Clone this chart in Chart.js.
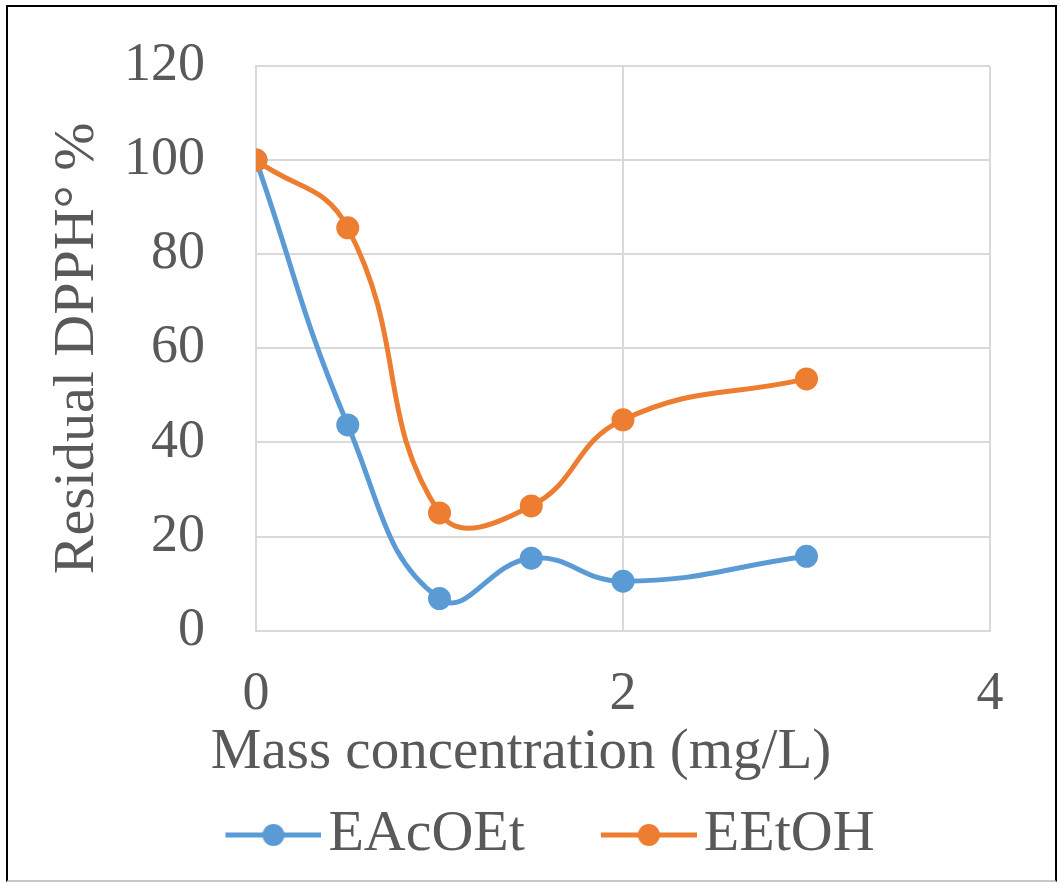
<!DOCTYPE html>
<html>
<head>
<meta charset="utf-8">
<script src="https://cdn.jsdelivr.net/npm/chart.js@4/dist/chart.umd.min.js"></script>
<style>
  body { margin: 0; background: #fff; }
  #wrap { position: relative; width: 1060px; height: 883px; }
  #frame {
    position: absolute; left: 6px; top: 5px; width: 1047px; height: 873px;
    border: 2px solid #000; border-bottom-color: #c8c8c8; pointer-events: none;
  }
</style>
</head>
<body>
<div id="wrap">
  <canvas id="chart"></canvas>
  <div id="frame"></div>
</div>
<script>
// data
const concentrations = [0, 0.5, 1, 1.5, 2, 3];
const eacoetValues = [100, 43.7, 6.8, 15.4, 10.5, 15.8];
const eetohValues = [100, 85.6, 25.0, 26.5, 44.8, 53.5];
const seriesNames = ['EAcOEt', 'EEtOH'];
const xTicks = [0, 2, 4];
const yTicks = [0, 20, 40, 60, 80, 100, 120];

const BLUE = '#5B9BD5';
const ORANGE = '#ED7D31';
const TEXT = '#595959';
const GRID = '#d9d9d9';
const FONT = "'Liberation Serif', 'Times New Roman', serif";

function toPoints(values) {
    return concentrations.map((c, i) => ({ x: c, y: values[i] }));
}

// line + marker icon for the legend, like Excel's.
// left part of the canvas is empty so the items sit further apart
function legendIcon(color) {
    const c = document.createElement('canvas');
    c.width = 176;
    c.height = 26;
    const ctx = c.getContext('2d');
    ctx.strokeStyle = color;
    ctx.lineWidth = 5;
    ctx.beginPath();
    ctx.moveTo(80, 13);
    ctx.lineTo(176, 13);
    ctx.stroke();
    ctx.fillStyle = color;
    ctx.beginPath();
    ctx.arc(128, 13, 11, 0, Math.PI * 2);
    ctx.fill();
    return c;
}

function series(label, values, color, order) {
    return {
        label: label,
        data: toPoints(values),
        order: order,
        borderColor: color,
        backgroundColor: color,
        borderWidth: 5,
        pointRadius: 11.5,
        pointHoverRadius: 11.5,
        pointBorderWidth: 0,
        tension: 0.45
    };
}

new Chart(document.getElementById('chart'), {
    type: 'line',
    data: {
        datasets: [
            series(seriesNames[0], eacoetValues, BLUE, 1),
            series(seriesNames[1], eetohValues, ORANGE, 0)
        ]
    },
    options: {
        responsive: true,
        maintainAspectRatio: false,
        animation: false,
        layout: { padding: { left: 0, right: 18, top: 0, bottom: 9 } },
        plugins: {
            tooltip: { enabled: false },
            title: {
                display: true,
                position: 'bottom',
                weight: 500,
                text: 'Mass concentration (mg/L)',
                color: TEXT,
                padding: { top: 2, bottom: 1 },
                font: { family: FONT, size: 57, weight: 'normal' }
            },
            legend: {
                position: 'bottom',
                labels: {
                    usePointStyle: true,
                    pointStyleWidth: 132,
                    padding: 18,
                    color: TEXT,
                    font: { family: FONT, size: 58 },
                    generateLabels: chart => chart.data.datasets.map((ds, i) => ({
                        text: ds.label,
                        pointStyle: legendIcon(ds.borderColor),
                        fillStyle: ds.borderColor,
                        strokeStyle: ds.borderColor,
                        lineWidth: 0,
                        fontColor: TEXT,
                        hidden: false,
                        datasetIndex: i
                    }))
                }
            }
        },
        scales: {
            x: {
                type: 'linear',
                min: 0,
                max: 4,
                afterBuildTicks: scale => { scale.ticks = xTicks.map(v => ({ value: v })); },
                afterFit: scale => { scale.height = 86; scale.paddingRight = 70; },
                grid: { color: GRID, lineWidth: 2, drawTicks: false },
                border: { color: GRID, width: 2 },
                ticks: {
                    color: TEXT,
                    padding: 32,
                    font: { family: FONT, size: 54 }
                }
            },
            y: {
                min: 0,
                max: 120,
                afterBuildTicks: scale => { scale.ticks = yTicks.map(v => ({ value: v })); },
                afterFit: scale => { scale.width = 256; scale.paddingTop = 66; },
                grid: { color: GRID, lineWidth: 2, drawTicks: false },
                border: { color: GRID, width: 2 },
                ticks: {
                    color: TEXT,
                    padding: 51,
                    font: { family: FONT, size: 54 }
                },
                title: {
                    display: true,
                    text: 'Residual DPPH° %',
                    color: TEXT,
                    padding: { top: 43, bottom: 0 },
                    font: { family: FONT, size: 58 }
                }
            }
        }
    }
});
</script>
</body>
</html>
